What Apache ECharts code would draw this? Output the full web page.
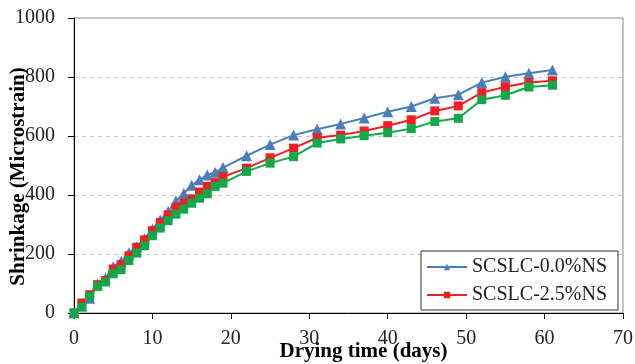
<!DOCTYPE html>
<html>
<head>
<meta charset="utf-8">
<script src="https://cdn.jsdelivr.net/npm/echarts@6/dist/echarts.min.js"></script>
<style>
  html, body { margin: 0; padding: 0; background: #fff; }
  #chart { width: 635px; height: 364px; }
</style>
</head>
<body>
<div id="chart"></div>
<script>
  // drying time (days)
  var days = [0, 1, 2, 3, 4, 5, 6, 7, 8, 9, 10, 11, 12, 13, 14, 15, 16, 17, 18, 19,
    22, 25, 28, 31, 34, 37, 40, 43, 46, 49, 52, 55, 58, 61]
  // shrinkage (microstrain)
  var ns00 = [0, 25, 50, 98, 118, 157, 175, 203, 225, 252, 284, 315, 344, 380, 405, 433, 452, 468, 477, 493,
    533, 571, 603, 623, 641, 661, 682, 700, 728, 740, 781, 801, 813, 824]
  var ns25 = [0, 34, 62, 96, 110, 149, 164, 194, 223, 248, 279, 307, 333, 358, 372, 387, 410, 429, 442, 462,
    491, 526, 559, 594, 603, 617, 635, 655, 685, 702, 747, 767, 781, 787]
  var ns50 = [0, 20, 56, 90, 105, 133, 147, 178, 203, 228, 262, 288, 313, 335, 352, 372, 389, 404, 429, 440,
    480, 508, 530, 576, 590, 601, 611, 625, 649, 660, 723, 738, 766, 772]
  var seriesNames = ['SCSLC-0.0%NS', 'SCSLC-2.5%NS', 'SCSLC-5.0%NS']

  function pairs(ys) {
    var out = []
    for (var i = 0; i < days.length; i++) {
      out.push([days[i], ys[i]])
    }
    return out
  }

  var font = 'Liberation Serif'
  var myChart = echarts.init(document.getElementById('chart'))
  var option = {
    animation: false,
    backgroundColor: '#fff',
    grid: {
      left: 74,
      right: 12,
      top: 18,
      bottom: 51,
      outerBoundsMode: 'none',
      containLabel: false,
      show: true,
      borderColor: '#8a8a8a',
      borderWidth: 1
    },
    legend: {
      data: [seriesNames[0], seriesNames[1]],
      orient: 'vertical',
      left: 421,
      top: 251,
      padding: [6, 11, 5, 5],
      itemGap: 8,
      itemWidth: 40,
      itemHeight: 8,
      backgroundColor: '#fff',
      borderColor: '#333',
      borderWidth: 1,
      textStyle: {
        fontFamily: font,
        fontSize: 20,
        color: '#222'
      }
    },
    xAxis: {
      type: 'value',
      min: 0,
      max: 70,
      interval: 10,
      name: 'Drying time (days)',
      nameLocation: 'middle',
      nameGap: 28,
      nameMoveOverlap: false,
      nameTextStyle: {
        fontFamily: font,
        fontSize: 21,
        fontWeight: 'bold',
        color: '#000',
        padding: [0, 0, 0, 30]
      },
      splitLine: { show: false },
      axisLine: { lineStyle: { color: '#000', width: 1 } },
      axisTick: { inside: false, length: 6, lineStyle: { color: '#000' } },
      axisLabel: {
        margin: 16,
        fontFamily: font,
        fontSize: 20,
        color: '#222'
      }
    },
    yAxis: {
      type: 'value',
      min: 0,
      max: 1000,
      interval: 200,
      name: 'Shrinkage (Microstrain)',
      nameLocation: 'middle',
      nameGap: 45,
      nameMoveOverlap: false,
      nameTextStyle: {
        fontFamily: font,
        fontSize: 21,
        fontWeight: 'bold',
        color: '#000',
        padding: [0, 22, 0, 0]
      },
      splitLine: {
        show: true,
        lineStyle: { color: '#c8c8c8', type: [4, 4], width: 1 }
      },
      axisLine: { show: true, lineStyle: { color: '#000', width: 1 } },
      axisTick: { show: true, inside: false, length: 6, lineStyle: { color: '#000' } },
      axisLabel: {
        margin: 19,
        fontFamily: font,
        fontSize: 20,
        color: '#222',
        formatter: function (v) { return String(v) }
      }
    },
    series: [
      {
        name: seriesNames[0],
        type: 'line',
        data: pairs(ns00),
        symbol: 'triangle',
        symbolSize: 11,
        color: '#4a7ebb',
        lineStyle: { width: 2 }
      },
      {
        name: seriesNames[1],
        type: 'line',
        data: pairs(ns25),
        symbol: 'rect',
        symbolSize: 9,
        color: '#ee2024',
        lineStyle: { width: 2 }
      },
      {
        name: seriesNames[2],
        type: 'line',
        data: pairs(ns50),
        symbol: 'rect',
        symbolSize: 9,
        color: '#12a84a',
        lineStyle: { width: 2 }
      }
    ]
  }
  myChart.setOption(option, true)
</script>
</body>
</html>
